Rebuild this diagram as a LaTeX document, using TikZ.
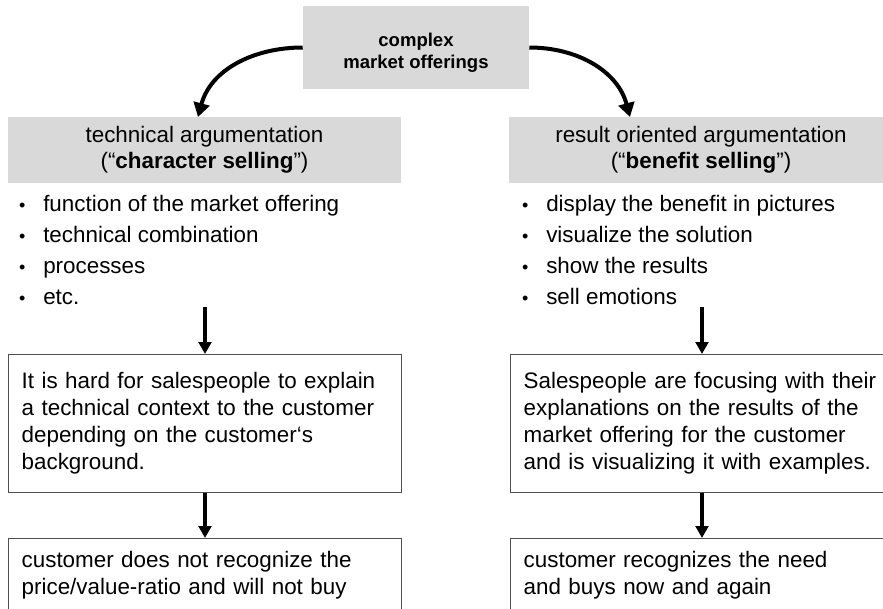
\documentclass[tikz,border=0pt]{standalone}
\usepackage{fontspec}
\setmainfont{Liberation Sans}
\usetikzlibrary{arrows.meta,positioning,calc}
\definecolor{headGray}{RGB}{217,217,217}
\definecolor{frameGray}{RGB}{80,80,80}
\tikzset{
  offerbox/.style={fill=headGray, minimum width=169.5pt, minimum height=62.25pt,
    align=center, font=\bfseries\fontsize{13.9}{16.5}\selectfont},
  headbox/.style={fill=headGray, minimum height=49.5pt, inner sep=0pt,
    align=center, font=\fontsize{16.8}{19.5}\selectfont},
  textbox/.style={draw=frameGray, line width=1pt, anchor=north west, align=left,
    inner xsep=9.75pt, font=\fontsize{16.8}{20.25}\selectfont},
  bulletitem/.style={anchor=base west, inner sep=0pt,
    font=\fontsize{16.8}{20.25}\selectfont},
  bendarrow/.style={line width=3pt, -{Triangle[length=10.5pt,width=12pt]}},
  downarrow/.style={line width=3pt, -{Triangle[length=9pt,width=9.5pt]}}
}
\newcommand{\bulletline}[1]{%
  \makebox[18.75pt][l]{\hspace{0.6pt}{\fontsize{13.5}{13.5}\selectfont\textbullet}}#1}

\begin{document}
\begin{tikzpicture}[x=0.75pt,y=-0.75pt]
  \clip (0,0) rectangle (883,608);
  % top and headers
  \node[offerbox] (offer) at (416,47.5)
    {\rule{0pt}{17.5pt}complex\\market offerings};
  \node[headbox, minimum width=294.75pt] (lhead) at (204.5,150)
    {technical argumentation\\(“\textbf{character selling}”)};
  \node[headbox, minimum width=300pt] (rhead) at (709,150)
    {\hspace*{-12pt}result oriented argumentation\\\hspace*{-12pt}(“\textbf{benefit selling}”)};
  \coordinate (ltip) at (198,117);
  \coordinate (rtip) at (630,117);
  \draw[bendarrow] (offer.west) to[out=180,in=75] (ltip);
  \draw[bendarrow] (offer.east) to[out=0,in=105] (rtip);
  % bullet lists
  \foreach \txt [count=\i] in {function of the market offering,
      technical combination, processes, etc.}
    \node[bulletitem] (litem\i) at (18,180+31*\i) {\bulletline{\txt}};
  \foreach \txt [count=\i] in {display the benefit in pictures,
      visualize the solution, show the results, sell emotions}
    \node[bulletitem] (ritem\i) at (521,180+31*\i) {\bulletline{\txt}};
  % boxes
  \node[textbox, text width=275.25pt, minimum height=103.5pt] (lbox) at (8,354)
    {It is hard for salespeople to explain\\a technical context to the customer\\
     depending on the customer‘s\\background.};
  \node[textbox, text width=285pt, minimum height=103.5pt] (rbox) at (510,354)
    {Salespeople are focusing with their\\explanations on the results of the\\
     market offering for the customer\\and is visualizing it with examples.};
  \node[textbox, text width=275.25pt, minimum height=55.5pt] (lres) at (8,538)
    {customer does not recognize the\\price/value-ratio and will not buy};
  \node[textbox, text width=285pt, minimum height=55.5pt] (rres) at (510,538)
    {customer recognizes the need\\and buys now and again};
  % vertical arrows
  \coordinate (lfrom) at (205,307);
  \coordinate (rfrom) at (702,307);
  \draw[downarrow] (lfrom) -- (lfrom |- lbox.north);
  \draw[downarrow] (lfrom |- lbox.south) -- (lfrom |- lres.north);
  \draw[downarrow] (rfrom) -- (rfrom |- rbox.north);
  \draw[downarrow] (rfrom |- rbox.south) -- (rfrom |- rres.north);
\end{tikzpicture}
\end{document}
